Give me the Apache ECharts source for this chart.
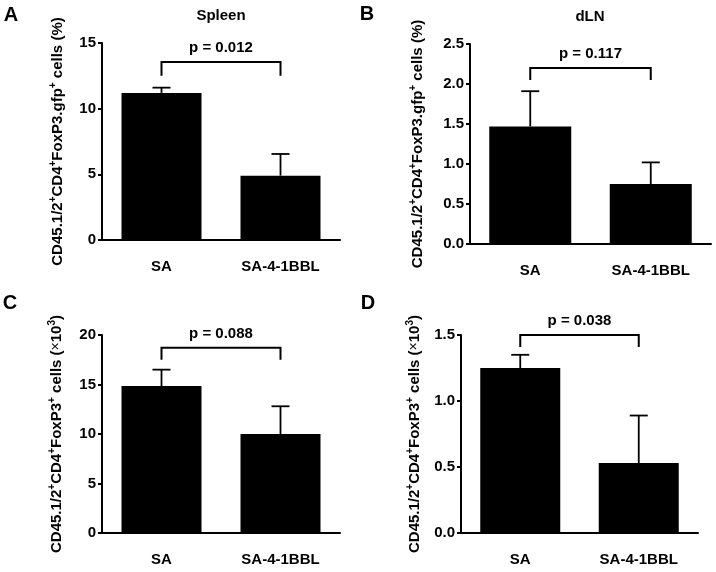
<!DOCTYPE html>
<html>
<head>
<meta charset="utf-8">
<script src="https://cdn.jsdelivr.net/npm/echarts@6/dist/echarts.min.js"></script>
<style>
  html, body { margin: 0; padding: 0; background: #fff; }
  #chart { width: 716px; height: 572px; }
</style>
</head>
<body>
<div id="chart"></div>
<script>
const categories = ['SA', 'SA-4-1BBL'];

// A - spleen, % of CD4+ cells
const spleenPct = [11.2, 4.9];
const spleenPctErr = [0.4, 1.65];
// B - dLN, %
const dlnPct = [1.47, 0.75];
const dlnPctErr = [0.44, 0.27];
// C - spleen, cell number (x10^3)
const spleenCount = [14.85, 10.0];
const spleenCountErr = [1.65, 2.8];
// D - dLN, cell number (x10^3)
const dlnCount = [1.25, 0.53];
const dlnCountErr = [0.10, 0.36];

const pValues = ['p = 0.012', 'p = 0.117', 'p = 0.088', 'p = 0.038'];
// bracket: [top, end of legs] in axis units
const brackets = [[13.55, 12.5], [2.2, 2.05], [18.7, 17.5], [1.5, 1.41]];

const yMax = [15, 2.5, 20, 1.5];
const yStep = [5, 0.5, 5, 0.5];
const yDecimals = [0, 1, 0, 1];

const FONT = '"Liberation Sans", Arial, Helvetica, sans-serif';

const pctName = '{b|CD45.1/2}{s|+}{b|CD4}{s|+}{b|FoxP3.gfp}{s|+}{b| cells (%)}';
const countName = '{b|CD45.1/2}{s|+}{b|CD4}{s|+}{b|FoxP3}{s|+}{b| cells (}{x|×}{b|10}{s|3}{b|)}';

const panels = [
  { means: spleenPct, errs: spleenPctErr, name: pctName, grid: { left: 102, top: 43, width: 238, height: 197 }, gap: 35, barWidth: 80 },
  { means: dlnPct, errs: dlnPctErr, name: pctName, grid: { left: 470, top: 44, width: 241, height: 200 }, gap: 43, barWidth: 82 },
  { means: spleenCount, errs: spleenCountErr, name: countName, grid: { left: 102, top: 335, width: 238, height: 198 }, gap: 36, barWidth: 80 },
  { means: dlnCount, errs: dlnCountErr, name: countName, grid: { left: 461, top: 335, width: 237, height: 198 }, gap: 37, barWidth: 80 }
];

const nameRich = {
  b: { fontFamily: FONT, fontWeight: 'bold', fontSize: 15, lineHeight: 19, color: '#000' },
  s: { fontFamily: FONT, fontWeight: 'bold', fontSize: 10, lineHeight: 19, verticalAlign: 'top', color: '#000' },
  x: { fontFamily: FONT, fontSize: 14, lineHeight: 19, color: '#000' }
};

function errorRender(params, api) {
  const base = api.coord([api.value(0), api.value(1)]);
  const top = api.coord([api.value(0), api.value(2)]);
  const st = { stroke: '#000', lineWidth: 1.8 };
  return {
    type: 'group',
    children: [
      { type: 'line', shape: { x1: base[0], y1: base[1], x2: top[0], y2: top[1] }, style: st },
      { type: 'line', shape: { x1: top[0] - 9, y1: top[1], x2: top[0] + 9, y2: top[1] }, style: st }
    ]
  };
}

function bracketRender(params, api) {
  const a = api.coord([api.value(0), api.value(3)]);
  const b = api.coord([api.value(0), api.value(2)]);
  const c = api.coord([api.value(1), api.value(2)]);
  const d = api.coord([api.value(1), api.value(3)]);
  return {
    type: 'group',
    children: [
      { type: 'polyline', shape: { points: [a, b, c, d] }, style: { stroke: '#000', lineWidth: 2, fill: null } },
      {
        type: 'text',
        x: (b[0] + c[0]) / 2,
        y: b[1] - 14,
        style: {
          text: pValues[params.seriesIndex % 4],
          font: 'bold 15px ' + FONT,
          fill: '#000',
          align: 'center',
          verticalAlign: 'middle'
        }
      }
    ]
  };
}

const option = {
  animation: false,
  backgroundColor: '#fff',
  grid: panels.map(p => Object.assign({ outerBoundsMode: 'none', containLabel: false }, p.grid)),
  xAxis: panels.map((p, i) => ({
    type: 'category',
    gridIndex: i,
    data: categories,
    axisLine: { lineStyle: { color: '#000', width: 2 } },
    axisTick: { show: false },
    axisLabel: { color: '#000', fontFamily: FONT, fontWeight: 'bold', fontSize: 15, margin: 19 },
    splitLine: { show: false }
  })),
  yAxis: panels.map((p, i) => ({
    type: 'value',
    gridIndex: i,
    min: 0,
    max: yMax[i],
    interval: yStep[i],
    name: p.name,
    nameLocation: 'middle',
    nameRotate: 90,
    nameGap: p.gap,
    nameTextStyle: { rich: nameRich },
    axisLine: { show: true, lineStyle: { color: '#000', width: 2 } },
    axisTick: { show: true, length: 4, lineStyle: { color: '#000', width: 2 } },
    axisLabel: {
      color: '#000', fontFamily: FONT, fontWeight: 'bold', fontSize: 15, margin: 6,
      formatter: v => v.toFixed(yDecimals[i])
    },
    splitLine: { show: false }
  })),
  series: [].concat(
    panels.map((p, i) => ({
      type: 'bar',
      xAxisIndex: i,
      yAxisIndex: i,
      data: p.means,
      barWidth: p.barWidth,
      itemStyle: { color: '#000' },
      z: 2
    })),
    panels.map((p, i) => ({
      type: 'custom',
      xAxisIndex: i,
      yAxisIndex: i,
      data: p.means.map((m, j) => [j, m, m + p.errs[j]]),
      renderItem: errorRender,
      z: 3
    })),
    panels.map((p, i) => ({
      type: 'custom',
      xAxisIndex: i,
      yAxisIndex: i,
      data: [[0, 1, brackets[i][0], brackets[i][1]]],
      renderItem: bracketRender,
      z: 3
    }))
  ),
  graphic: [
    { type: 'text', x: 11, y: 15, style: { text: 'A', font: 'bold 20px ' + FONT, fill: '#000', align: 'center', verticalAlign: 'middle' } },
    { type: 'text', x: 367, y: 14, style: { text: 'B', font: 'bold 20px ' + FONT, fill: '#000', align: 'center', verticalAlign: 'middle' } },
    { type: 'text', x: 10, y: 303, style: { text: 'C', font: 'bold 20px ' + FONT, fill: '#000', align: 'center', verticalAlign: 'middle' } },
    { type: 'text', x: 368, y: 303, style: { text: 'D', font: 'bold 20px ' + FONT, fill: '#000', align: 'center', verticalAlign: 'middle' } },
    { type: 'text', x: 221, y: 16, style: { text: 'Spleen', font: 'bold 15px ' + FONT, fill: '#000', align: 'center', verticalAlign: 'middle' } },
    { type: 'text', x: 590, y: 17, style: { text: 'dLN', font: 'bold 15px ' + FONT, fill: '#000', align: 'center', verticalAlign: 'middle' } }
  ]
};

const chart = echarts.init(document.getElementById('chart'), null, { renderer: 'canvas' });
chart.setOption(option);
</script>
</body>
</html>
